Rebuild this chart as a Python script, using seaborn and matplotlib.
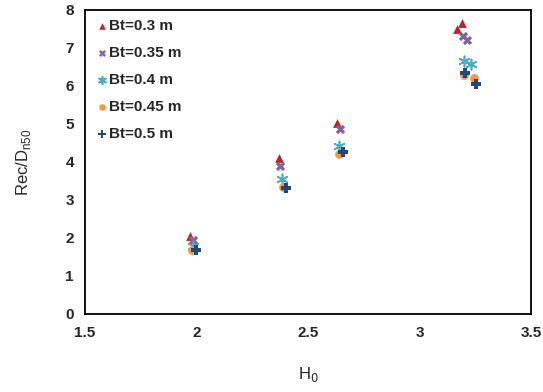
import matplotlib
matplotlib.use("Agg")
import matplotlib.pyplot as plt
import seaborn as sns
import pandas as pd

series = ["Bt=0.3 m", "Bt=0.35 m", "Bt=0.4 m", "Bt=0.45 m", "Bt=0.5 m"]
h0_03 = [1.97, 2.37, 2.63, 3.17, 3.19]
rec_03 = [2.05, 4.10, 5.03, 7.50, 7.65]
h0_035 = [1.985, 2.375, 2.645, 3.195, 3.215]
rec_035 = [1.95, 3.90, 4.88, 7.32, 7.22]
h0_04 = [1.985, 2.385, 2.64, 3.20, 3.23]
rec_04 = [1.80, 3.55, 4.42, 6.65, 6.57]
h0_045 = [1.98, 2.39, 2.64, 3.20, 3.245]
rec_045 = [1.68, 3.35, 4.22, 6.30, 6.20]
h0_05 = [2.00, 2.40, 2.655, 3.205, 3.255]
rec_05 = [1.68, 3.32, 4.27, 6.33, 6.05]

xs = [h0_03, h0_035, h0_04, h0_045, h0_05]
ys = [rec_03, rec_035, rec_04, rec_045, rec_05]
rows = []
for name, xv, yv in zip(series, xs, ys):
    for a, b in zip(xv, yv):
        rows.append({"H0": a, "Rec": b, "Bt": name})
df = pd.DataFrame(rows)

sns.set_style("white")
plt.rcParams["font.family"] = ["Liberation Sans", "DejaVu Sans"]

colors = ["#B8262B", "#8064A2", "#4BACC6", "#F79646", "#1F497D"]
markers = ["^", "X", (6, 2, 0), "o", "P"]
sizes = [40, 45, 55, 40, 55]

fig = plt.figure(figsize=(5.43, 3.92), dpi=100)
ax = fig.add_axes([0.1565, 0.199, 0.8215, 0.7755])

for name, c, m, s in zip(series, colors, markers, sizes):
    sub = df[df["Bt"] == name]
    lw = 1.2 if m == (6, 2, 0) else 0
    sns.scatterplot(data=sub, x="H0", y="Rec", color=c, marker=m, ax=ax,
                    label=name, edgecolor=c, s=s, linewidth=lw)

ax.set_xlim(1.5, 3.5)
ax.set_ylim(0, 8)
ax.set_xticks([1.5, 2, 2.5, 3, 3.5])
ax.set_xticklabels(["1.5", "2", "2.5", "3", "3.5"])
ax.set_yticks(range(0, 9))
for lab in ax.get_xticklabels() + ax.get_yticklabels():
    lab.set_fontweight("bold")
    lab.set_fontsize(11)
ax.tick_params(axis="x", length=0, pad=9)
ax.tick_params(axis="y", length=0, pad=8)
ax.set_xlabel("H$_0$", fontsize=12, labelpad=18)
ax.set_ylabel("Rec/D$_{\\mathregular{n50}}$", fontsize=12, labelpad=23)
for sp in ax.spines.values():
    sp.set_color("black")
    sp.set_linewidth(1.3)

leg = ax.legend(loc="upper left", frameon=False, prop={"weight": "bold", "size": 11},
                handletextpad=0.0, labelspacing=0.85, borderaxespad=0.2,
                markerscale=0.75, handlelength=1.0)

fig.savefig("out.png", dpi=100)
